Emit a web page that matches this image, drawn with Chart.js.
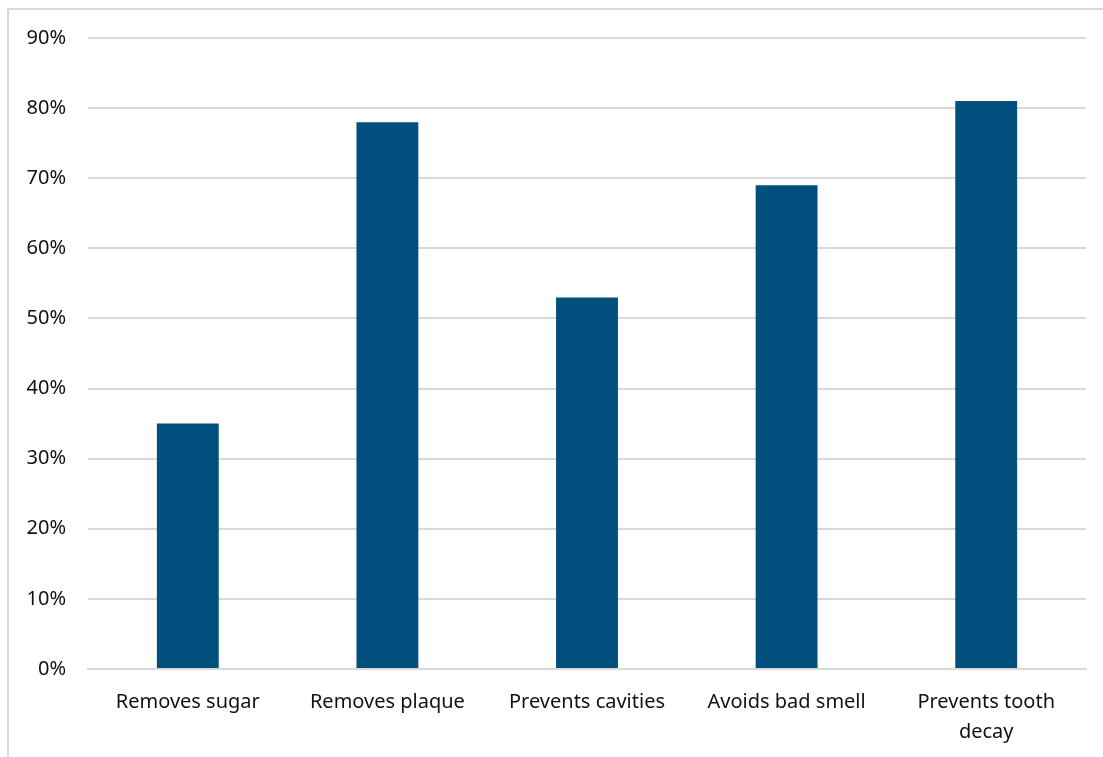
<!DOCTYPE html>
<html>
<head>
<meta charset="utf-8">
<script src="https://cdn.jsdelivr.net/npm/chart.js@4"></script>
<style>
  html, body { margin: 0; padding: 0; background: #fff; overflow: hidden; }
  .frame {
    position: absolute; left: 7px; top: 8px; width: 1200px; height: 800px;
    border-left: 2px solid #d9d9d9; border-top: 2px solid #d9d9d9;
  }
  .wrap { position: absolute; left: 0; top: 0; width: 1103px; height: 757px; }
</style>
</head>
<body>
<div class="frame"></div>
<div class="wrap"><canvas id="chart" width="1103" height="757"></canvas></div>
<script>
// ─── DATA ────────────────────────────────────────────────────────────────────
const CATEGORIES = ['Removes sugar', 'Removes plaque', 'Prevents cavities', 'Avoids bad smell', ['Prevents tooth', 'decay']];
const VALUES = [35, 78, 53, 69, 81];
const Y_MAX = 90;
const Y_STEP = 10;

const BAR_COLOR  = '#004f7d';
const GRID_COLOR = '#d9d9d9';
const TEXT_COLOR = '#111111';

Chart.defaults.font.family = "'Noto Sans', 'Open Sans', sans-serif";
Chart.defaults.font.size = 20;
Chart.defaults.color = TEXT_COLOR;

// ─── CHART ───────────────────────────────────────────────────────────────────
const ctx = document.getElementById('chart').getContext('2d');
new Chart(ctx, {
  type: 'bar',
  data: {
    labels: CATEGORIES,
    datasets: [{
      data: VALUES,
      backgroundColor: BAR_COLOR,
      barPercentage: 0.31,
      categoryPercentage: 1,
    }]
  },
  options: {
    responsive: false,
    animation: false,
    layout: { padding: { left: 0, top: 38, right: 17, bottom: 0 } },
    plugins: { legend: { display: false }, tooltip: { enabled: false } },
    scales: {
      x: {
        grid: { display: false },
        border: { color: GRID_COLOR, width: 2 },
        ticks: { maxRotation: 0, autoSkip: false, padding: 10, font: { lineHeight: 1.5 } },
        afterFit: axis => { axis.height = 88; },
      },
      y: {
        min: 0,
        max: Y_MAX,
        grid: { color: GRID_COLOR, lineWidth: 2, drawTicks: false },
        border: { display: false },
        ticks: { stepSize: Y_STEP, padding: 22, callback: v => v + '%' },
        afterFit: axis => { axis.width = 88; },
      }
    }
  }
});
</script>
</body>
</html>
